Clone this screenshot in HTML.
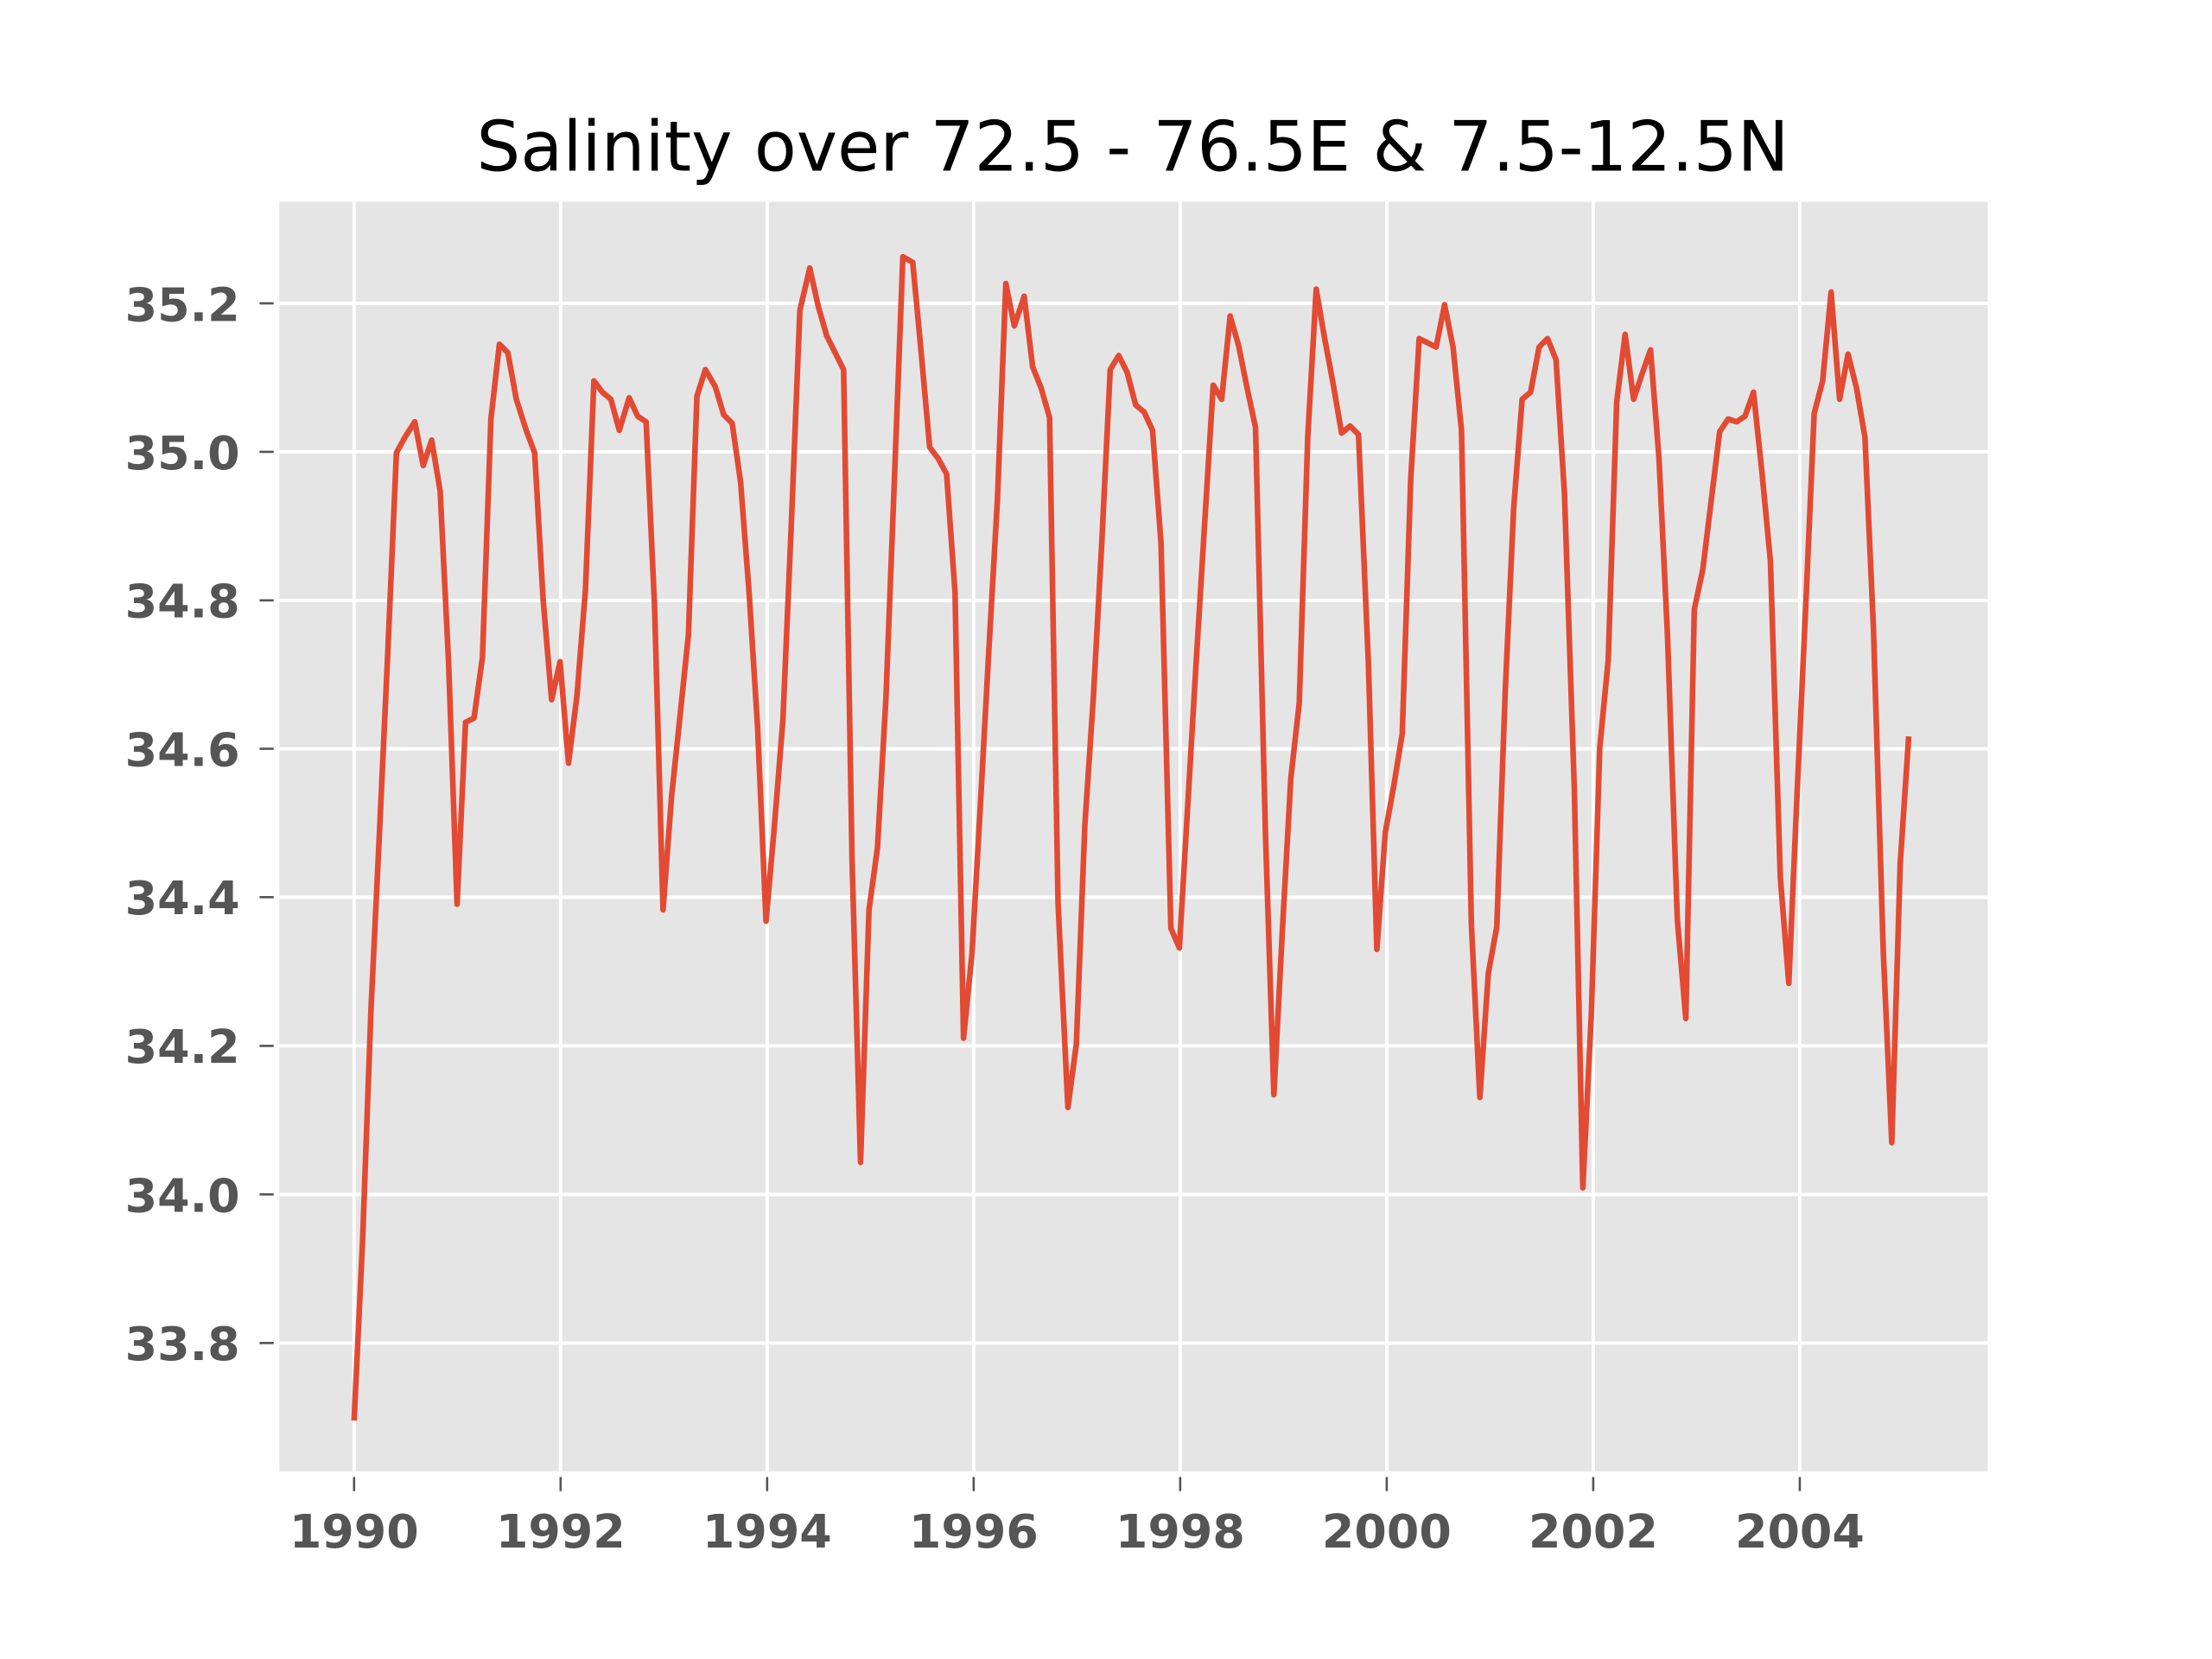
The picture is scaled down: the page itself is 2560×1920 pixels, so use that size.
<!DOCTYPE html>
<html><head><meta charset="utf-8"><style>html,body{margin:0;padding:0;background:#fff}svg{display:block}</style></head>
<body>
<svg width="2560" height="1920" viewBox="0 0 1568 1176" preserveAspectRatio="none" xmlns="http://www.w3.org/2000/svg">
<rect x="0" y="0" width="1568" height="1176" fill="#fff"/>
<rect x="198" y="143" width="1211" height="900" fill="#E5E5E5"/>
<g stroke="#fff" stroke-width="2.4">
<line x1="198" x2="1409" y1="215" y2="215"/><line x1="198" x2="1409" y1="320.3" y2="320.3"/>
<line x1="198" x2="1409" y1="425.6" y2="425.6"/><line x1="198" x2="1409" y1="530.8" y2="530.8"/>
<line x1="198" x2="1409" y1="636" y2="636"/><line x1="198" x2="1409" y1="741.4" y2="741.4"/>
<line x1="198" x2="1409" y1="846.7" y2="846.7"/><line x1="198" x2="1409" y1="952" y2="952"/>
<line y1="143" y2="1043" x1="251" x2="251"/><line y1="143" y2="1043" x1="397.4" x2="397.4"/>
<line y1="143" y2="1043" x1="543.8" x2="543.8"/><line y1="143" y2="1043" x1="690.2" x2="690.2"/>
<line y1="143" y2="1043" x1="836.6" x2="836.6"/><line y1="143" y2="1043" x1="983" x2="983"/>
<line y1="143" y2="1043" x1="1129.4" x2="1129.4"/><line y1="143" y2="1043" x1="1275.8" x2="1275.8"/>
</g>
<g stroke="#555" stroke-width="1.6">
<line x1="184" x2="194" y1="215" y2="215"/><line x1="184" x2="194" y1="320.3" y2="320.3"/>
<line x1="184" x2="194" y1="425.6" y2="425.6"/><line x1="184" x2="194" y1="530.8" y2="530.8"/>
<line x1="184" x2="194" y1="636" y2="636"/><line x1="184" x2="194" y1="741.4" y2="741.4"/>
<line x1="184" x2="194" y1="846.7" y2="846.7"/><line x1="184" x2="194" y1="952" y2="952"/>
<line y1="1047" y2="1057" x1="251" x2="251"/><line y1="1047" y2="1057" x1="397.4" x2="397.4"/>
<line y1="1047" y2="1057" x1="543.8" x2="543.8"/><line y1="1047" y2="1057" x1="690.2" x2="690.2"/>
<line y1="1047" y2="1057" x1="836.6" x2="836.6"/><line y1="1047" y2="1057" x1="983" x2="983"/>
<line y1="1047" y2="1057" x1="1129.4" x2="1129.4"/><line y1="1047" y2="1057" x1="1275.8" x2="1275.8"/>
</g>
<g font-family="'DejaVu Sans','Liberation Sans',sans-serif" font-weight="bold" font-size="33" fill="#555" text-anchor="end">
<text x="170" y="227.5">35.2</text><text x="170" y="332.5">35.0</text><text x="170" y="437.5">34.8</text>
<text x="170" y="543">34.6</text><text x="170" y="648">34.4</text><text x="170" y="753.5">34.2</text>
<text x="170" y="859">34.0</text><text x="170" y="964">33.8</text>
</g>
<g font-family="'DejaVu Sans','Liberation Sans',sans-serif" font-weight="bold" font-size="33" fill="#555" text-anchor="middle">
<text x="251" y="1097">1990</text><text x="397.4" y="1097">1992</text><text x="543.8" y="1097">1994</text>
<text x="690.2" y="1097">1996</text><text x="836.6" y="1097">1998</text><text x="983" y="1097">2000</text>
<text x="1129.4" y="1097">2002</text><text x="1275.8" y="1097">2004</text>
</g>
<text x="803" y="121" text-anchor="middle" font-family="'DejaVu Sans','Liberation Sans',sans-serif" font-size="49" fill="#000">Salinity over 72.5 - 76.5E &amp; 7.5-12.5N</text>
<polyline fill="none" stroke="#E24A33" stroke-width="4" stroke-linejoin="round" points="251,1007 257,880 263,715 269,590 275,460 281,321 287,310 294,299 300,330 306,312 312,348 318,470 324,641 330,512 336,509 342,466 348,297 354,244 360,250 366,283 373,305 379,321 385,425 391,496 397,469 403,541 409,493 415,418 421,270 427,278 433,283 439,305 446,282 452,295 458,299 464,430 470,645 476,565 482,508 488,450 494,281 500,262 507,274 513,294 519,300 525,342 531,420 537,515 543,653 549,585 555,510 561,370 567,220 574,190 580,217 586,238 592,250 598,262 604,610 610,824 616,645 622,601 628,495 634,340 640,182 647,186 653,250 659,317 665,325 671,336 677,420 683,736 689,676 695,570 701,460 707,355 713,201 719,231 726,210 732,260 738,275 744,296 750,640 757,785 763,740 769,585 775,495 781,385 787,262 793,252 799,264 805,287 811,292 817,305 823,385 830,658 836,672 842,570 848,468 854,370 860,273 866,283 872,224 878,245 884,275 890,303 897,590 903,776 909,660 915,552 921,498 927,310 933,205 939,240 945,272 951,307 957,302 963,308 970,470 976,673 982,590 988,557 994,520 1000,340 1006,240 1012,243 1018,246 1024,216 1030,246 1036,305 1043,655 1049,778 1055,690 1061,657 1067,490 1073,360 1079,283 1085,278 1091,246 1097,240 1103,255 1109,350 1116,560 1122,842 1128,720 1134,530 1140,468 1146,285 1152,237 1158,283 1164,265 1170,248 1176,325 1182,450 1189,652 1195,722 1201,432 1207,404 1213,355 1219,306 1225,297 1231,299 1237,295 1243,278 1249,335 1255,398 1262,622 1268,697 1274,560 1280,430 1286,293 1292,270 1298,207 1304,283 1310,251 1316,275 1322,310 1328,445 1335,675 1341,810 1347,612 1353,522"/>
</svg>
</body></html>
